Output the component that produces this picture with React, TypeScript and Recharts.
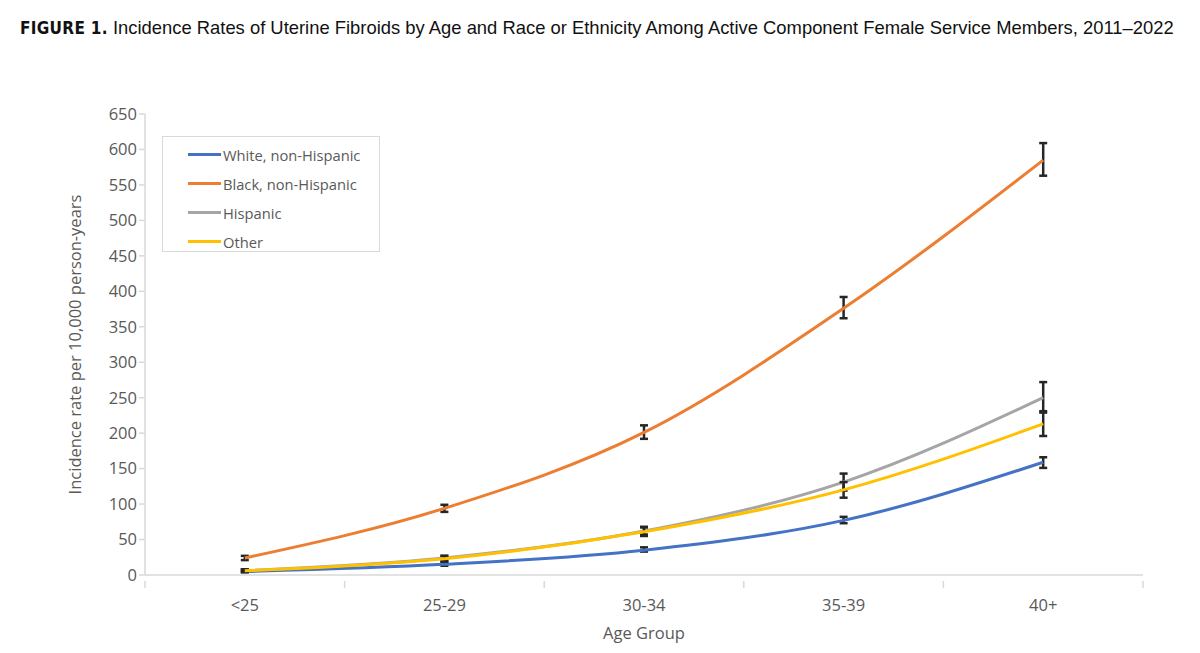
import React from 'react';
import { LineChart, Line, XAxis, YAxis, ErrorBar, Label } from 'recharts';

const ageGroups = ['<25', '25-29', '30-34', '35-39', '40+'];

const white = [5, 15, 35, 77, 159];
const whiteLow = [4, 13, 33, 73, 151];
const whiteHigh = [7, 18, 39, 82, 166];

const black = [24, 94, 201, 376, 585];
const blackLow = [21, 89, 192, 362, 563];
const blackHigh = [27, 99, 211, 392, 609];

const hispanic = [6, 24, 62, 131, 250];
const hispanicLow = [5, 21, 57, 119, 229];
const hispanicHigh = [8, 27, 68, 143, 272];

const other = [6, 23, 61, 120, 213];
const otherLow = [4, 19, 55, 109, 196];
const otherHigh = [8, 27, 67, 131, 231];

const yTicks = [0, 50, 100, 150, 200, 250, 300, 350, 400, 450, 500, 550, 600, 650];

const series = [
  { key: 'white', name: 'White, non-Hispanic', color: '#4472C4' },
  { key: 'black', name: 'Black, non-Hispanic', color: '#ED7D31' },
  { key: 'hispanic', name: 'Hispanic', color: '#A5A5A5' },
  { key: 'other', name: 'Other', color: '#FFC000' },
];

const err = (v: number[], lo: number[], hi: number[], i: number) => [v[i] - lo[i], hi[i] - v[i]];

const data = ageGroups.map((age, i) => ({
  age,
  white: white[i],
  whiteErr: err(white, whiteLow, whiteHigh, i),
  black: black[i],
  blackErr: err(black, blackLow, blackHigh, i),
  hispanic: hispanic[i],
  hispanicErr: err(hispanic, hispanicLow, hispanicHigh, i),
  other: other[i],
  otherErr: err(other, otherLow, otherHigh, i),
}));

const font = '"Open Sans", sans-serif';
const grey = '#595959';
const axisGrey = '#d9d9d9';

const PLOT_W = 998;
const HALF_STEP = PLOT_W / ageGroups.length / 2;

// category label plus Excel-style tick marks between categories
const AgeTick = (props: any) => {
  const { x, y, payload, index } = props;
  const top = y - 18;
  const last = index === ageGroups.length - 1;
  return (
    <g>
      <line x1={x - HALF_STEP} x2={x - HALF_STEP} y1={top} y2={top + 7} stroke={axisGrey} strokeWidth={1.5} />
      {last && <line x1={x + HALF_STEP} x2={x + HALF_STEP} y1={top} y2={top + 7} stroke={axisGrey} strokeWidth={1.5} />}
      <text x={x} y={y} dy="0.71em" textAnchor="middle" fill={grey} fontSize={16.5} fontFamily={font}>
        {payload.value}
      </text>
    </g>
  );
};

const LegendBox = () => (
  <div
    style={{
      position: 'absolute',
      left: 162,
      top: 136,
      border: `1px solid ${axisGrey}`,
      width: 218,
      height: 116,
      boxSizing: 'border-box',
      padding: '3px 0 0 25px',
      fontFamily: font,
      fontSize: 14.7,
      color: grey,
      background: '#fff',
    }}
  >
    {series.map((s) => (
      <div key={s.key} style={{ display: 'flex', alignItems: 'center', height: 29 }}>
        <span style={{ display: 'inline-block', width: 33, height: 3, background: s.color, marginRight: 2 }} />
        <span>{s.name}</span>
      </div>
    ))}
  </div>
);

export default function App() {
  return (
    <div style={{ position: 'absolute', left: 0, top: 0, width: 1200, height: 653, background: '#fff' }}>
      <div
        style={{
          position: 'absolute',
          left: 20,
          top: 17,
          whiteSpace: 'nowrap',
          fontFamily: '"Liberation Sans", Arial, sans-serif',
          fontSize: 18.4,
          color: '#111',
        }}
      >
        <span style={{ fontFamily: '"DejaVu Sans Condensed", sans-serif', fontWeight: 700, fontSize: 17, letterSpacing: 0.3 }}>
          FIGURE 1.
        </span>{' '}
        Incidence Rates of Uterine Fibroids by Age and Race or Ethnicity Among Active Component Female Service Members, 2011–2022
      </div>
      <LineChart
        width={1200}
        height={653}
        data={data}
        margin={{ top: 114, right: 57, bottom: 0, left: 95 }}
      >
        <XAxis
          dataKey="age"
          padding={{ left: HALF_STEP, right: HALF_STEP }}
          axisLine={{ stroke: axisGrey, strokeWidth: 1.5 }}
          tickLine={false}
          tick={<AgeTick />}
          interval={0}
          tickMargin={18}
          height={78}
        >
          <Label value="Age Group" position="insideBottom" offset={14} fill={grey} fontSize={16.5} fontFamily={font} />
        </XAxis>
        <YAxis
          domain={[0, 650]}
          ticks={yTicks}
          interval={0}
          axisLine={{ stroke: axisGrey, strokeWidth: 1.5 }}
          tickLine={{ stroke: axisGrey, strokeWidth: 1.5 }}
          tickSize={6}
          tick={{ fill: grey, fontSize: 16.5, fontFamily: font }}
          width={50}
        >
          <Label
            value="Incidence rate per 10,000 person-years"
            angle={-90}
            position="insideLeft"
            offset={-20}
            style={{ textAnchor: 'middle' }}
            fill={grey}
            fontSize={16.5}
            fontFamily={font}
          />
        </YAxis>
        {series.map((s) => (
          <Line
            key={s.key}
            type="monotone"
            dataKey={s.key}
            name={s.name}
            stroke={s.color}
            strokeWidth={3}
            dot={false}
            activeDot={false}
            isAnimationActive={false}
          >
            <ErrorBar dataKey={`${s.key}Err`} width={4} stroke="#262626" strokeWidth={2.5} />
          </Line>
        ))}
      </LineChart>
      <LegendBox />
    </div>
  );
}
